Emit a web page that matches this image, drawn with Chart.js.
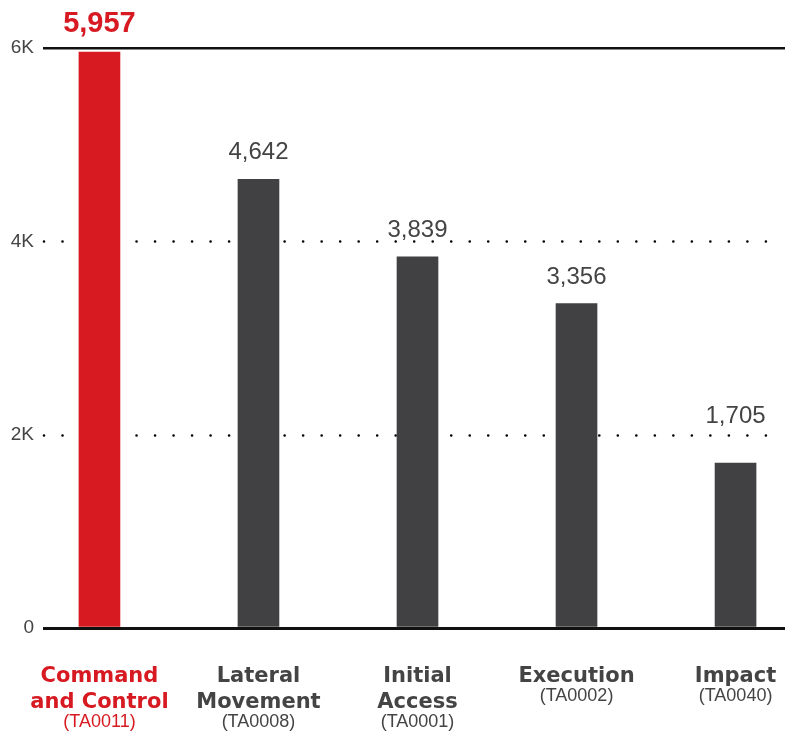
<!DOCTYPE html>
<html lang="en">
<head>
    <meta charset="UTF-8">
    <title>MITRE ATT&CK tactics</title>
    <script src="https://cdn.jsdelivr.net/npm/chart.js@4"></script>
    <style>
        html, body {
            margin: 0;
            padding: 0;
            background: #ffffff;
        }

        .chart-wrap {
            width: 787px;
            height: 733px;
            position: relative;
        }
    </style>
</head>
<body>
    <div class="chart-wrap">
        <canvas id="tacticChart"></canvas>
    </div>

    <script>
        // data
        const tacticNames = [
            ['Command', 'and Control'],
            ['Lateral', 'Movement'],
            ['Initial', 'Access'],
            ['Execution'],
            ['Impact']
        ];
        const tacticCodes = ['(TA0011)', '(TA0008)', '(TA0001)', '(TA0002)', '(TA0040)'];
        const detections = [5957, 4642, 3839, 3356, 1705];
        const yTicks = [0, 2000, 4000, 6000];

        const RED = '#d71a21';
        const BAR_GREY = '#414042';
        const TEXT_GREY = '#444444';
        const topValue = Math.max(...detections);
        const isTop = i => detections[i] === topValue;

        // dotted lines for the inner ticks, drawn under the bars
        const dottedGrid = {
            id: 'dottedGrid',
            beforeDatasetsDraw(chart) {
                const { ctx, chartArea, scales } = chart;
                const y = scales.y;
                ctx.save();
                ctx.strokeStyle = '#000';
                ctx.lineWidth = 2.6;
                ctx.lineCap = 'round';
                ctx.setLineDash([0.01, 18.5]);
                yTicks.forEach(t => {
                    if (t === y.min || t === y.max) return;
                    const py = Math.round(y.getPixelForValue(t)) + 0.5;
                    ctx.beginPath();
                    ctx.moveTo(chartArea.left + 1, py);
                    ctx.lineTo(chartArea.right - 15, py);
                    ctx.stroke();
                });
                ctx.restore();
            }
        };

        // value labels above the bars
        const valueLabels = {
            id: 'valueLabels',
            afterDatasetsDraw(chart) {
                const { ctx, scales } = chart;
                const meta = chart.getDatasetMeta(0);
                const gridPx = yTicks.filter(t => t !== scales.y.min && t !== scales.y.max)
                    .map(t => scales.y.getPixelForValue(t));
                ctx.save();
                ctx.textAlign = 'center';
                ctx.textBaseline = 'alphabetic';
                meta.data.forEach((bar, i) => {
                    const top = isTop(i);
                    const size = top ? 29 : 24;
                    ctx.font = (top ? 'bold ' : '') + size + 'px "Liberation Sans", Arial, sans-serif';
                    ctx.fillStyle = top ? RED : TEXT_GREY;
                    let base = bar.y - 20;
                    const capH = size * 0.72;
                    gridPx.forEach(g => {
                        if (g > base - capH && g < base) base = g - 12;
                    });
                    ctx.fillText(detections[i].toLocaleString('en-US'), bar.x, base);
                });
                ctx.restore();
            }
        };

        // two-font category labels under the axis
        const categoryLabels = {
            id: 'categoryLabels',
            afterDraw(chart) {
                const { ctx, chartArea, scales } = chart;
                ctx.save();
                ctx.textAlign = 'center';
                ctx.textBaseline = 'alphabetic';
                tacticNames.forEach((lines, i) => {
                    const x = scales.x.getPixelForValue(i);
                    const colour = isTop(i) ? RED : TEXT_GREY;
                    let base = chartArea.bottom + 54;
                    ctx.fillStyle = colour;
                    ctx.font = 'bold 21px "DejaVu Sans", sans-serif';
                    lines.forEach((line, k) => {
                        if (k > 0) base += 26;
                        ctx.fillText(line, x, base);
                    });
                    ctx.font = '18px "Liberation Sans", Arial, sans-serif';
                    ctx.fillText(tacticCodes[i], x, base + 18.5);
                });
                ctx.restore();
            }
        };

        const ctx = document.getElementById('tacticChart').getContext('2d');
        new Chart(ctx, {
            type: 'bar',
            data: {
                datasets: [{
                    data: detections.map((v, i) => ({ x: i, y: v })),
                    backgroundColor: c => isTop(c.dataIndex) ? RED : BAR_GREY,
                    borderWidth: 0,
                    barThickness: 41
                }]
            },
            options: {
                responsive: true,
                maintainAspectRatio: false,
                animation: false,
                layout: {
                    padding: { top: 48, right: 2, bottom: 105, left: 0 }
                },
                plugins: {
                    legend: { display: false },
                    tooltip: { enabled: false }
                },
                scales: {
                    x: {
                        type: 'linear',
                        display: false,
                        offset: false,
                        min: -0.355,
                        max: 4.311
                    },
                    y: {
                        min: 0,
                        max: 6000,
                        afterFit(scale) { scale.width = 43; },
                        afterBuildTicks(scale) {
                            scale.ticks = yTicks.map(v => ({ value: v }));
                        },
                        border: { display: false },
                        grid: {
                            drawTicks: false,
                            color: '#111',
                            lineWidth: c => c.tick.value === 0 ? 3 : (c.tick.value === 6000 ? 2.5 : 0)
                        },
                        ticks: {
                            padding: 9,
                            color: TEXT_GREY,
                            font: { family: '"Liberation Sans", Arial, sans-serif', size: 19 },
                            callback: v => v === 0 ? '0' : (v / 1000) + 'K'
                        }
                    }
                }
            },
            plugins: [dottedGrid, valueLabels, categoryLabels]
        });
    </script>
</body>
</html>
